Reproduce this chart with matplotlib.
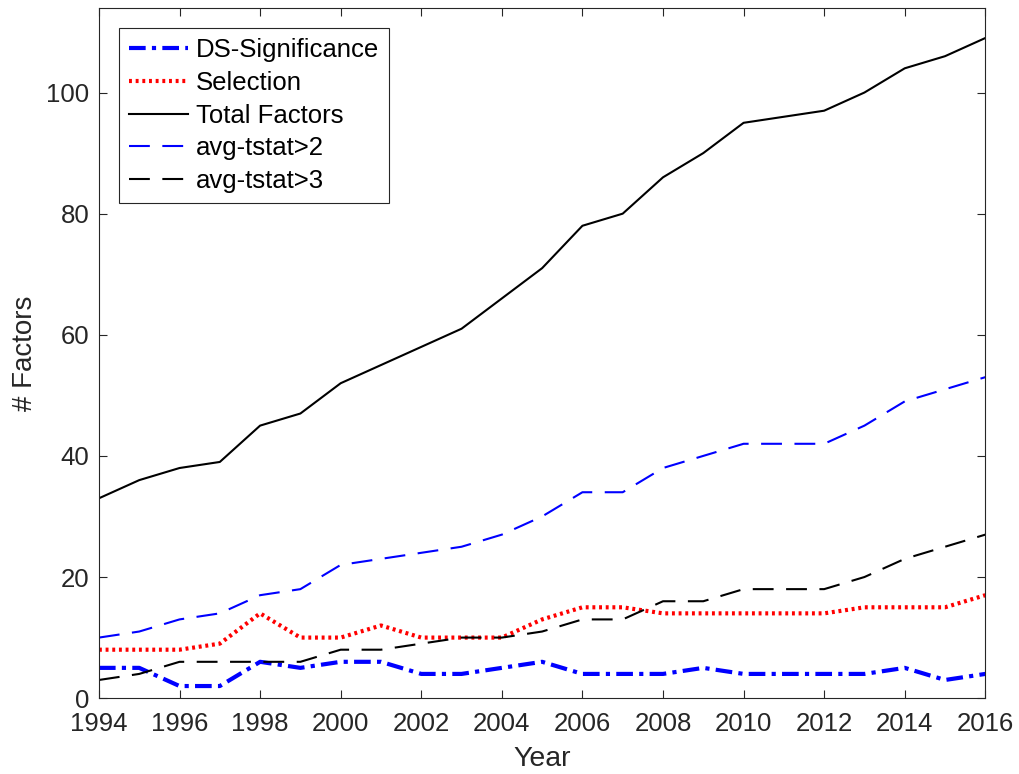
import matplotlib.pyplot as plt

plt.rcParams['font.family'] = ['Liberation Sans', 'DejaVu Sans']

years = list(range(1994, 2017))
ds_significance = [5, 5, 2, 2, 6, 5, 6, 6, 4, 4, 5, 6, 4, 4, 4, 5, 4, 4, 4, 4, 5, 3, 4]
selection = [8, 8, 8, 9, 14, 10, 10, 12, 10, 10, 10, 13, 15, 15, 14, 14, 14, 14, 14, 15, 15, 15, 17]
total_factors = [33, 36, 38, 39, 45, 47, 52, 55, 58, 61, 66, 71, 78, 80, 86, 90, 95, 96, 97, 100, 104, 106, 109]
tstat_2 = [10, 11, 13, 14, 17, 18, 22, 23, 24, 25, 27, 30, 34, 34, 38, 40, 42, 42, 42, 45, 49, 51, 53]
tstat_3 = [3, 4, 6, 6, 6, 6, 8, 8, 9, 10, 10, 11, 13, 13, 16, 16, 18, 18, 18, 20, 23, 25, 27]

fig = plt.figure(figsize=(10.2, 7.74), dpi=100)
ax = fig.add_axes([0.097, 0.098, 0.869, 0.892])

ax.plot(years, ds_significance, color='blue', linestyle=(0, (4, 1.5, 1, 1.5)), linewidth=3, label='DS-Significance')
ax.plot(years, selection, color='red', linestyle=(0, (0.7, 0.9)), linewidth=3, label='Selection')
ax.plot(years, total_factors, color='black', linestyle='-', linewidth=1.5, label='Total Factors')
ax.plot(years, tstat_2, color='blue', linestyle=(0, (10, 6)), linewidth=1.5, label='avg-tstat>2')
ax.plot(years, tstat_3, color='black', linestyle=(0, (10, 6)), linewidth=1.5, label='avg-tstat>3')

ax.set_xlim(1994, 2016)
ax.set_ylim(0, 114)
ax.set_xticks(range(1994, 2017, 2))
ax.set_yticks(range(0, 101, 20))

ax.tick_params(direction='in', top=True, right=True, length=6, width=0.8,
               labelsize=18.5, colors='#262626')
ax.tick_params(axis='x', pad=10)
ax.tick_params(axis='y', pad=7)
for spine in ax.spines.values():
    spine.set_color('#262626')
    spine.set_linewidth(0.8)

ax.set_xlabel('Year', fontsize=20.5, color='#262626', labelpad=7)
ax.set_ylabel('# Factors', fontsize=20, color='#262626', labelpad=6)

leg = ax.legend(loc='upper left', bbox_to_anchor=(0.0226, 0.970), borderaxespad=0,
                fontsize=18.5, handlelength=2.3, handletextpad=0.3, labelspacing=0.34,
                borderpad=0.38, fancybox=False, framealpha=1)
leg.get_frame().set_edgecolor('#262626')
leg.get_frame().set_linewidth(0.8)

fig.savefig('out.png', dpi=100)
